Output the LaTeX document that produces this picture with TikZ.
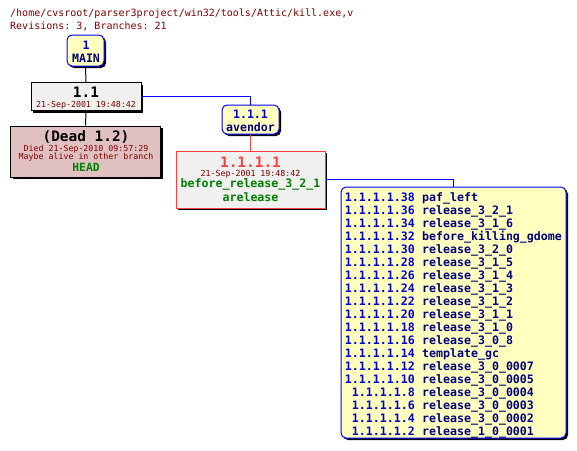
\documentclass[tikz,border=0pt]{standalone}
\usepackage{fontspec}
\setmonofont{DejaVu Sans Mono}
\usetikzlibrary{shadows}
\definecolor{titlered}{RGB}{128,0,0}
\definecolor{numblue}{RGB}{0,0,210}
\definecolor{navy}{RGB}{0,0,128}
\definecolor{boxyellow}{RGB}{255,255,192}
\definecolor{boxgray}{RGB}{240,240,240}
\definecolor{deadpink}{RGB}{224,192,192}
\definecolor{taggreen}{RGB}{0,128,0}
\definecolor{revred}{RGB}{255,64,64}
\definecolor{lineblue}{RGB}{0,0,255}
\newcommand{\fs}[1]{\fontsize{#1}{#1}\selectfont}
\tikzset{
  shad/.style={drop shadow={shadow xshift=2pt,shadow yshift=-2pt,fill=black,opacity=1}},
  revbox/.style={draw=black,fill=boxgray,line width=1pt,shad,inner sep=0pt},
  tagbox/.style={draw=lineblue,fill=boxyellow,line width=1pt,rounded corners=5pt,shad,inner sep=0pt},
  txt/.style={anchor=base,inner sep=0pt,font=\ttfamily},
  conn/.style={line width=1pt},
}
\begin{document}
\begin{tikzpicture}[x=1pt,y=-1pt]
\useasboundingbox (0,0) rectangle (577,450);
% title
\node[txt,anchor=base west,text=titlered,font=\ttfamily\fs{10}] (title) at (10,16) {/home/cvsroot/parser3project/win32/tools/Attic/kill.exe,v};
\node[txt,anchor=base west,text=titlered,font=\ttfamily\fs{10}] (revs) at (10,29) {Revisions: 3, Branches: 21};
% boxes
\node[tagbox,minimum width=37pt,minimum height=31pt] (main) at (85.5,50.5) {};
\node[revbox,minimum width=110pt,minimum height=28pt] (v11) at (86,96.5) {};
\node[revbox,fill=deadpink,minimum width=150pt,minimum height=51pt] (dead) at (85.5,151.5) {};
\node[tagbox,minimum width=57pt,minimum height=29pt] (avendor) at (250.5,119.5) {};
\node[revbox,draw=revred,minimum width=149pt,minimum height=57pt] (v1111) at (250.5,179.5) {};
\node[tagbox,minimum width=225pt,minimum height=251pt] (list) at (453.5,312.5) {};
% connectors
\draw[conn,draw=black] (main.south) -- (v11.north);
\draw[conn,draw=black] (v11.south) -- (dead.north);
\draw[conn,draw=lineblue] (v11.east) -| (avendor.north);
\draw[conn,draw=revred] (avendor.south) -- (v1111.north);
\draw[conn,draw=lineblue] (v1111.east) -| (list.north);
% texts
\node[txt,text=numblue,font=\ttfamily\bfseries\fs{11.6}] (mainnum) at (86,49) {1};
\node[txt,text=navy,font=\ttfamily\bfseries\fs{11.6}] (mainname) at (86,62) {MAIN};
\node[txt,text=black,font=\ttfamily\bfseries\fs{14.4}] (v11num) at (86,97) {1.1};
\node[txt,text=titlered,font=\ttfamily\fs{8.3}] (v11date) at (86,107) {21-Sep-2001 19:48:42};
\node[txt,text=numblue,font=\ttfamily\bfseries\fs{11.6}] (avnum) at (250.5,118) {1.1.1};
\node[txt,text=navy,font=\ttfamily\bfseries\fs{11.6}] (avname) at (250.5,131) {avendor};
\node[txt,text=black,font=\ttfamily\bfseries\fs{14.4}] (deadnum) at (86,141) {(Dead 1.2)};
\node[txt,text=titlered,font=\ttfamily\fs{8.3}] (deaddate) at (86,151) {Died 21-Sep-2010 09:57:29};
\node[txt,text=titlered,font=\ttfamily\fs{8.3}] (deadmaybe) at (86,159) {Maybe alive in other branch};
\node[txt,text=taggreen,font=\ttfamily\bfseries\fs{11.3}] (deadhead) at (86,171) {HEAD};
\node[txt,text=revred,font=\ttfamily\bfseries\fs{14.4}] (v1111num) at (250.5,167) {1.1.1.1};
\node[txt,text=titlered,font=\ttfamily\fs{8.3}] (v1111date) at (250.5,176) {21-Sep-2001 19:48:42};
\node[txt,text=taggreen,font=\ttfamily\bfseries\fs{11.6}] (v1111tag) at (250.5,187) {before\_release\_3\_2\_1};
\node[txt,text=taggreen,font=\ttfamily\bfseries\fs{11.6}] (v1111br) at (250.5,201) {arelease};
% list
\foreach \n/\t [count=\k from 0] in {38/paf\_left,36/release\_3\_2\_1,34/release\_3\_1\_6,32/before\_killing\_gdome,30/release\_3\_2\_0,28/release\_3\_1\_5,26/release\_3\_1\_4,24/release\_3\_1\_3,22/release\_3\_1\_2,20/release\_3\_1\_1,18/release\_3\_1\_0,16/release\_3\_0\_8,14/template\_gc,12/release\_3\_0\_0007,10/release\_3\_0\_0005,8/release\_3\_0\_0004,6/release\_3\_0\_0003,4/release\_3\_0\_0002,2/release\_1\_0\_0001}{
  \node[txt,anchor=base east,text=numblue,font=\ttfamily\bfseries\fs{11.6}] (ln\k) at (415,{201+13*\k}) {1.1.1.1.\n};
  \node[txt,anchor=base west,text=navy,font=\ttfamily\bfseries\fs{11.6}] (lt\k) at (422,{201+13*\k}) {\t};
}
\end{tikzpicture}
\end{document}
